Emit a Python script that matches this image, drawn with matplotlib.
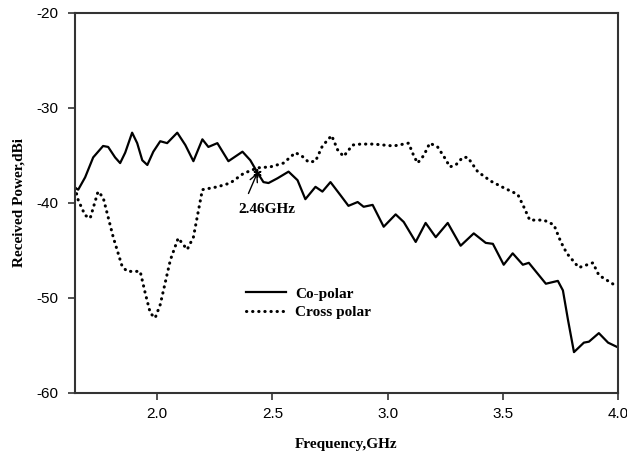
import matplotlib
matplotlib.use("Agg")
import matplotlib.pyplot as plt

co_freq = [1.643, 1.657, 1.687, 1.722, 1.765, 1.787, 1.817, 1.839, 1.861, 1.891, 1.913,
           1.935, 1.957, 1.983, 2.013, 2.043, 2.087, 2.122, 2.157, 2.196, 2.222, 2.261,
           2.309, 2.370, 2.404, 2.435, 2.461, 2.483, 2.522, 2.570, 2.609, 2.643, 2.687,
           2.717, 2.752, 2.796, 2.830, 2.870, 2.896, 2.935, 2.983, 3.035, 3.070, 3.122,
           3.165, 3.209, 3.261, 3.317, 3.374, 3.426, 3.457, 3.504, 3.543, 3.587, 3.613,
           3.687, 3.739, 3.761, 3.783, 3.809, 3.852, 3.874, 3.917, 3.957, 4.000]
co_power = [-38.4, -38.6, -37.3, -35.2, -34.0, -34.1, -35.2, -35.8, -34.7, -32.6, -33.7,
            -35.5, -36.0, -34.6, -33.5, -33.7, -32.6, -33.9, -35.6, -33.3, -34.1, -33.7,
            -35.6, -34.6, -35.5, -36.8, -37.8, -37.9, -37.4, -36.7, -37.6, -39.6, -38.3,
            -38.8, -37.8, -39.2, -40.3, -39.9, -40.4, -40.2, -42.5, -41.2, -42.0, -44.1,
            -42.1, -43.6, -42.1, -44.5, -43.2, -44.2, -44.3, -46.5, -45.3, -46.5, -46.3,
            -48.5, -48.2, -49.2, -52.3, -55.7, -54.7, -54.6, -53.7, -54.7, -55.2]

cross_freq = [1.643, 1.657, 1.687, 1.709, 1.743, 1.765, 1.809, 1.848, 1.870, 1.926, 1.948,
              1.970, 1.991, 2.013, 2.057, 2.091, 2.130, 2.157, 2.196, 2.261, 2.317, 2.374,
              2.435, 2.491, 2.548, 2.600, 2.630, 2.657, 2.687, 2.717, 2.757, 2.783, 2.809,
              2.848, 2.883, 2.939, 3.026, 3.091, 3.113, 3.130, 3.157, 3.183, 3.217, 3.252,
              3.270, 3.296, 3.326, 3.348, 3.391, 3.448, 3.504, 3.565, 3.591, 3.617, 3.678,
              3.722, 3.752, 3.778, 3.830, 3.891, 3.917, 3.983, 4.000]
cross_power = [-38.4, -39.7, -41.3, -41.6, -38.8, -39.4, -43.6, -46.7, -47.2, -47.2, -49.5,
               -51.6, -52.1, -50.7, -46.0, -43.7, -44.9, -43.6, -38.6, -38.3, -37.9, -36.9,
               -36.3, -36.2, -35.8, -34.7, -35.1, -35.7, -35.6, -34.0, -32.9, -34.4, -35.1,
               -33.9, -33.8, -33.8, -34.0, -33.7, -35.0, -35.8, -35.0, -33.7, -34.1, -35.4,
               -36.2, -36.0, -35.2, -35.2, -36.7, -37.7, -38.4, -39.1, -40.4, -41.8, -41.8,
               -42.3, -44.1, -45.3, -46.8, -46.3, -47.6, -48.6, -48.8]

x_ticks = [2.0, 2.5, 3.0, 3.5, 4.0]
y_ticks = [-60, -50, -40, -30, -20]
series_labels = ["Co-polar", "Cross polar"]
marker_freq, marker_power = 2.435, -36.8
arrow_tail = (2.396, -39.0)
marker_text = "2.46GHz"
text_pos = (2.352, -40.7)

fig = plt.figure(figsize=(6.27, 4.54), dpi=100)
ax = fig.add_axes([0.1196, 0.1344, 0.8660, 0.837])

ax.plot(co_freq, co_power, color="black", lw=1.6, label=series_labels[0],
        solid_joinstyle="round")
ax.plot(cross_freq, cross_power, color="black", lw=2.2, linestyle=(0, (0.1, 1.9)),
        dash_capstyle="round", label=series_labels[1])

ax.set_xlim(1.643, 4.0)
ax.set_ylim(-60, -20)
ax.set_xticks(x_ticks)
ax.set_xticklabels([f"{v:.1f}" for v in x_ticks], fontfamily="Liberation Sans", fontsize=11)
ax.set_yticks(y_ticks)
ax.set_yticklabels([str(v) for v in y_ticks], fontfamily="Liberation Sans", fontsize=11)
ax.tick_params(direction="out", length=5, width=1.2, color="#333333")
ax.tick_params(axis="x", pad=5)
ax.tick_params(axis="y", pad=7)
for s in ax.spines.values():
    s.set_linewidth(1.5)
    s.set_color("#333333")

ax.set_xlabel("Frequency,GHz", fontfamily="Liberation Serif", fontweight="bold",
              fontsize=11, labelpad=12)
ax.set_ylabel("Received Power,dBi", fontfamily="Liberation Serif", fontweight="bold",
              fontsize=11, labelpad=8)

ax.annotate("", xy=(marker_freq, marker_power), xytext=arrow_tail,
            arrowprops=dict(arrowstyle="->", color="black", lw=1.0,
                            shrinkA=0, shrinkB=0, mutation_scale=14))
ax.plot([marker_freq], [marker_power], marker=(6, 2, 0), color="black", ms=6, mew=1.0)
ax.text(text_pos[0], text_pos[1], marker_text, fontfamily="Liberation Serif",
        fontweight="bold", fontsize=11, ha="left", va="center")

leg = ax.legend(loc="upper left", bbox_to_anchor=(0.29, 0.315), frameon=False,
                prop={"family": "Liberation Serif", "weight": "bold", "size": 11},
                handlelength=2.6, handletextpad=0.6, labelspacing=0.3)

fig.savefig("out.png", dpi=100)
